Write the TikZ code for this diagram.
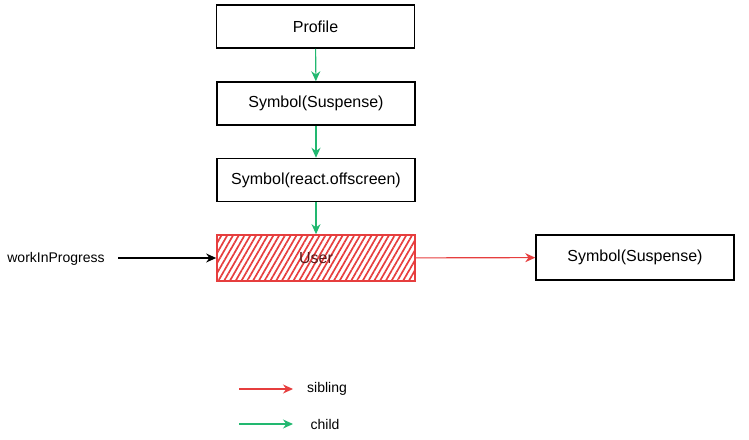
\documentclass[tikz,border=0pt]{standalone}
\usepackage{fontspec}
\setmainfont{Liberation Sans}
\usetikzlibrary{arrows.meta,patterns.meta}
\definecolor{sibred}{RGB}{230,62,62}
\definecolor{chgreen}{RGB}{34,184,112}
\begin{document}
\begin{tikzpicture}[x=1pt,y=-1pt,
  fiber/.style={draw=black,line width=1.5pt,minimum width=198pt,minimum height=43pt,inner sep=0pt,font=\fontsize{16}{18}\selectfont,fill=white},
  childarr/.style={draw=chgreen,line width=1.1pt,-{Stealth[length=10pt,width=9pt]}},
  sibarr/.style={draw=sibred,line width=1.1pt,-{Stealth[length=10pt,width=9pt]}},
  ptrarr/.style={draw=black,line width=1.1pt,-{Stealth[length=10pt,width=9pt]}},
  lbl/.style={font=\fontsize{14}{16}\selectfont,inner sep=0pt}]
\useasboundingbox (0,0) rectangle (749,439);
\node[fiber] (profile) at (315.5,26.5) {Profile};
\node[fiber] (susp) at (316,103.5) {Symbol(Suspense)};
\node[fiber] (off) at (316,180) {Symbol(react.offscreen)};
\node[fiber,draw=sibred,minimum height=46pt,fill=none,
  pattern={Lines[angle=60,distance=5pt,line width=1.7pt]},pattern color=sibred,
  text=black!60!sibred] (user) at (316,258) {User};
\node[fiber,minimum height=45pt] (susp2) at (635,257.5) {Symbol(Suspense)};
\node[lbl] (wip) at (56,259) {workInProgress};
\coordinate (wipstart) at (118,258);
\draw[childarr] (profile) -- (susp);
\draw[childarr] (susp) -- (off);
\draw[childarr] (off) -- (user);
\draw[sibarr] (user) -- (susp2);
\draw[ptrarr] (wipstart) -- (user.west|-wipstart);
% legend
\coordinate (ls1) at (239,389);
\coordinate (le1) at (293,389);
\coordinate (ls2) at (239,424);
\coordinate (le2) at (293,424);
\draw[sibarr] (ls1) -- (le1);
\draw[childarr] (ls2) -- (le2);
\node[lbl] (sib) at (327,389) {sibling};
\node[lbl] (chl) at (325,424) {child};
\end{tikzpicture}
\end{document}
